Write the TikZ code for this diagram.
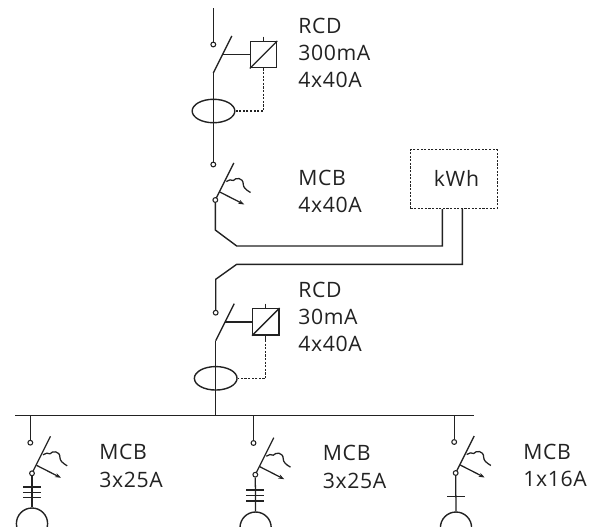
\documentclass[tikz,border=0pt]{standalone}
\usepackage{fontspec}
\setmainfont{Open Sans}[LetterSpace=3]
\usetikzlibrary{arrows.meta,shapes.geometric}
\definecolor{ink}{HTML}{222222}
\tikzset{
  x=0.75pt,y=-0.75pt,
  wire/.style={draw=ink,line width=1.05pt,line join=miter},
  thin wire/.style={draw=ink,line width=0.95pt},
  dash wire/.style={draw=ink,line width=0.8pt,dash pattern=on 1.6pt off 1.1pt},
  term/.style={circle,draw=ink,fill=white,line width=0.8pt,inner sep=0pt,minimum size=3.6pt},
  toroid/.style={ellipse,draw=ink,line width=1.05pt,inner sep=0pt,minimum width=32pt,minimum height=17.6pt},
  relay/.style={rectangle,draw=ink,line width=1.05pt,inner sep=0pt,minimum size=19.6pt},
  meter/.style={rectangle,draw=ink,line width=0.8pt,dash pattern=on 1.6pt off 1.1pt,inner sep=0pt,minimum width=65pt,minimum height=43.9pt},
  label/.style={anchor=base west,inner sep=0pt,text=ink,font=\fontsize{15.9pt}{15.9pt}\selectfont},
  lamp/.style={circle,draw=ink,line width=1.05pt,inner sep=0pt,minimum size=23.4pt},
  mcbpic/.pic={
    \coordinate (-c) at (0,0);
    \coordinate (-top) at (18.5,-37);
    \draw[thin wire] (-c) -- (-top);
    \draw[thin wire,-{Stealth[length=4.5pt,width=3.2pt]}] (4.5,-8) -- (29,4.5);
    \draw[thin wire] (11,-18.5) .. controls (13.5,-20.5) and (16,-20.5) .. (18,-19.5)
       .. controls (20,-22.5) and (28,-23) .. (28,-15.5)
       .. controls (28,-13) and (30,-10.5) .. (35.2,-7.5);
    \node[term] (-t) at (0,0) {};
  },
  breaker/.pic={
    \coordinate (-bottom) at (0,0);
    \coordinate (-top) at (18.5,-37);
    \draw[thin wire] (-bottom) -- (-top);
  }
}
\begin{document}
\begin{tikzpicture}
\useasboundingbox (0,0) rectangle (601,526);
\begin{scope}
\clip (0,0) rectangle (601,526);

% top RCD
\coordinate (in1) at (213.3,8);
\node[term] (t1) at (213.3,44.5) {};
\draw[wire] (in1) -- (t1.north);
\pic (b1) at (213.3,73) {breaker};
\node[toroid] (e1) at (213.5,111) {};
\node[relay] (r1) at (263.5,54.7) {};
\node[term] (t2) at (213.3,164.5) {};
\draw[wire] (b1-bottom) -- (t2.north);
\coordinate (k1) at (223.2,54.7);
\draw[wire] (k1) -- (r1.west);
\draw[thin wire] (r1.south west) -- (r1.north east);
\coordinate (u1) at (263.5,36.7);
\draw[thin wire] (u1) -- (r1.north);
\draw[dash wire] (r1.south) |- (e1.east);

% first MCB and meter
\pic (m1) at (215.3,200) {mcbpic};
\node[meter] (kwh) at (453.7,179.2) {};
\coordinate (w1a) at (215.3,230);
\coordinate (w1b) at (236.7,246);
\coordinate (w1c) at (442.3,246);
\draw[wire] (m1-t.south) -- (w1a) -- (w1b) -- (w1c) -- (w1c |- kwh.south);
\coordinate (w2a) at (462.3,264.3);
\coordinate (w2b) at (236.7,264.3);
\coordinate (w2c) at (215.7,279.3);
\node[term] (t3) at (215.7,312.7) {};
\draw[wire] (w2a |- kwh.south) -- (w2a) -- (w2b) -- (w2c) -- (t3.north);

% second RCD
\pic (b2) at (215.7,340.7) {breaker};
\node[toroid] (e2) at (215.7,378.3) {};
\node[relay] (r2) at (265.8,321.8) {};
\coordinate (k2) at (225,321.8);
\draw[wire] (k2) -- (r2.west);
\draw[thin wire] (r2.south west) -- (r2.north east);
\coordinate (u2) at (265.8,303.7);
\coordinate (d2) at (265.8,340);
\draw[thin wire] (u2) -- (r2.north);
\draw[thin wire] (r2.south) -- (d2);
\draw[dash wire] (d2) |- (e2.east);

% bus
\coordinate (busL) at (15,415.5);
\coordinate (busR) at (474,415.5);
\draw[draw=ink,line width=1.15pt] (busL) -- (busR);
\draw[wire] (b2-bottom) -- (b2-bottom |- busL);

% branch 1
\node[term] (s1) at (30.3,442.7) {};
\draw[wire] (s1.north) -- (s1.north |- busL);
\pic (m2) at (32,473.3) {mcbpic};
\node[lamp] (l1) at (32,523.6) {};
\draw[thin wire] (m2-t.south) -- (l1.north);
\foreach \y/\n in {487/a,492.3/b,497.7/c} {
  \coordinate (p\n) at (23,\y); \coordinate (q\n) at (41,\y);
  \draw[thin wire] (p\n) -- (q\n);
}

% branch 2
\node[term] (s2) at (253.5,443) {};
\draw[wire] (s2.north) -- (s2.north |- busL);
\pic (m3) at (255.3,474.7) {mcbpic};
\node[lamp] (l2) at (255.6,527.6) {};
\draw[thin wire] (m3-t.south) -- (l2.north);
\foreach \y/\n in {490/a,495.7/b,501/c} {
  \coordinate (p\n) at (246.3,\y); \coordinate (q\n) at (264.3,\y);
  \draw[thin wire] (p\n) -- (q\n);
}

% branch 3
\node[term] (s3) at (454.2,442) {};
\draw[wire] (s3.north) -- (s3.north |- busL);
\pic (m4) at (455.7,473) {mcbpic};
\node[lamp] (l3) at (456,527.6) {};
\draw[thin wire] (m4-t.south) -- (l3.north);
\coordinate (pd) at (447,496.7);
\coordinate (qd) at (465,496.7);
\draw[thin wire] (pd) -- (qd);
\end{scope}

% labels
\node[label] (L0) at (433.7,186.7) {kWh};
\node[label] (L1) at (298,33) {RCD};
\node[label] (L2) at (298,60) {300mA};
\node[label] (L3) at (298,87) {4x40A};
\node[label] (L4) at (298,185) {MCB};
\node[label] (L5) at (298,212.7) {4x40A};
\node[label] (L6) at (298,297) {RCD};
\node[label] (L7) at (298,324) {30mA};
\node[label] (L8) at (298,351) {4x40A};
\node[label] (L9) at (99,459.3) {MCB};
\node[label] (L10) at (99,487.3) {3x25A};
\node[label] (L11) at (322.7,460.7) {MCB};
\node[label] (L12) at (322.7,488) {3x25A};
\node[label] (L13) at (523,459) {MCB};
\node[label] (L14) at (523,486.7) {1x16A};
\end{tikzpicture}
\end{document}
